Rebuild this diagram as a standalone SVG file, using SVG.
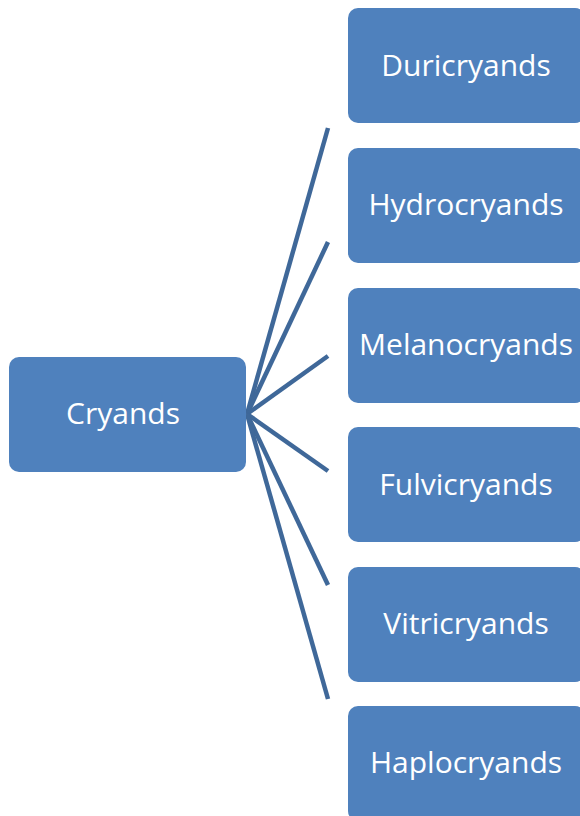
<svg xmlns="http://www.w3.org/2000/svg" width="580" height="816" viewBox="0 0 580 816">
<style>
.box{fill:#4F81BD;}
.lbl{fill:#FFFFFF;font-family:"Open Sans","Liberation Sans",sans-serif;font-size:30px;text-anchor:middle;dominant-baseline:central;}
.con{stroke:#3F6899;stroke-width:4.5;fill:none;stroke-linecap:butt;}
</style>
<rect width="580" height="816" fill="#FFFFFF"/>
<g id="connectors">
<line class="con" x1="247" y1="414" x2="328" y2="128"/>
<line class="con" x1="247" y1="414" x2="328" y2="242"/>
<line class="con" x1="247" y1="414" x2="328" y2="356"/>
<line class="con" x1="247" y1="414" x2="328" y2="471"/>
<line class="con" x1="247" y1="414" x2="328" y2="585"/>
<line class="con" x1="247" y1="414" x2="328" y2="699"/>
</g>
<g id="cryands"><rect class="box" x="9" y="357" width="237" height="115" rx="10"/><text class="lbl" x="123" y="412">Cryands</text></g>
<g id="duricryands"><rect class="box" x="348" y="8" width="237" height="115" rx="10"/><text class="lbl" x="466" y="64">Duricryands</text></g>
<g id="hydrocryands"><rect class="box" x="348" y="148" width="237" height="115" rx="10"/><text class="lbl" x="466" y="203">Hydrocryands</text></g>
<g id="melanocryands"><rect class="box" x="348" y="288" width="237" height="115" rx="10"/><text class="lbl" x="466" y="343">Melanocryands</text></g>
<g id="fulvicryands"><rect class="box" x="348" y="427" width="237" height="115" rx="10"/><text class="lbl" x="466" y="483">Fulvicryands</text></g>
<g id="vitricryands"><rect class="box" x="348" y="567" width="237" height="115" rx="10"/><text class="lbl" x="466" y="622">Vitricryands</text></g>
<g id="haplocryands"><rect class="box" x="348" y="706" width="237" height="115" rx="10"/><text class="lbl" x="466" y="761">Haplocryands</text></g>
</svg>
